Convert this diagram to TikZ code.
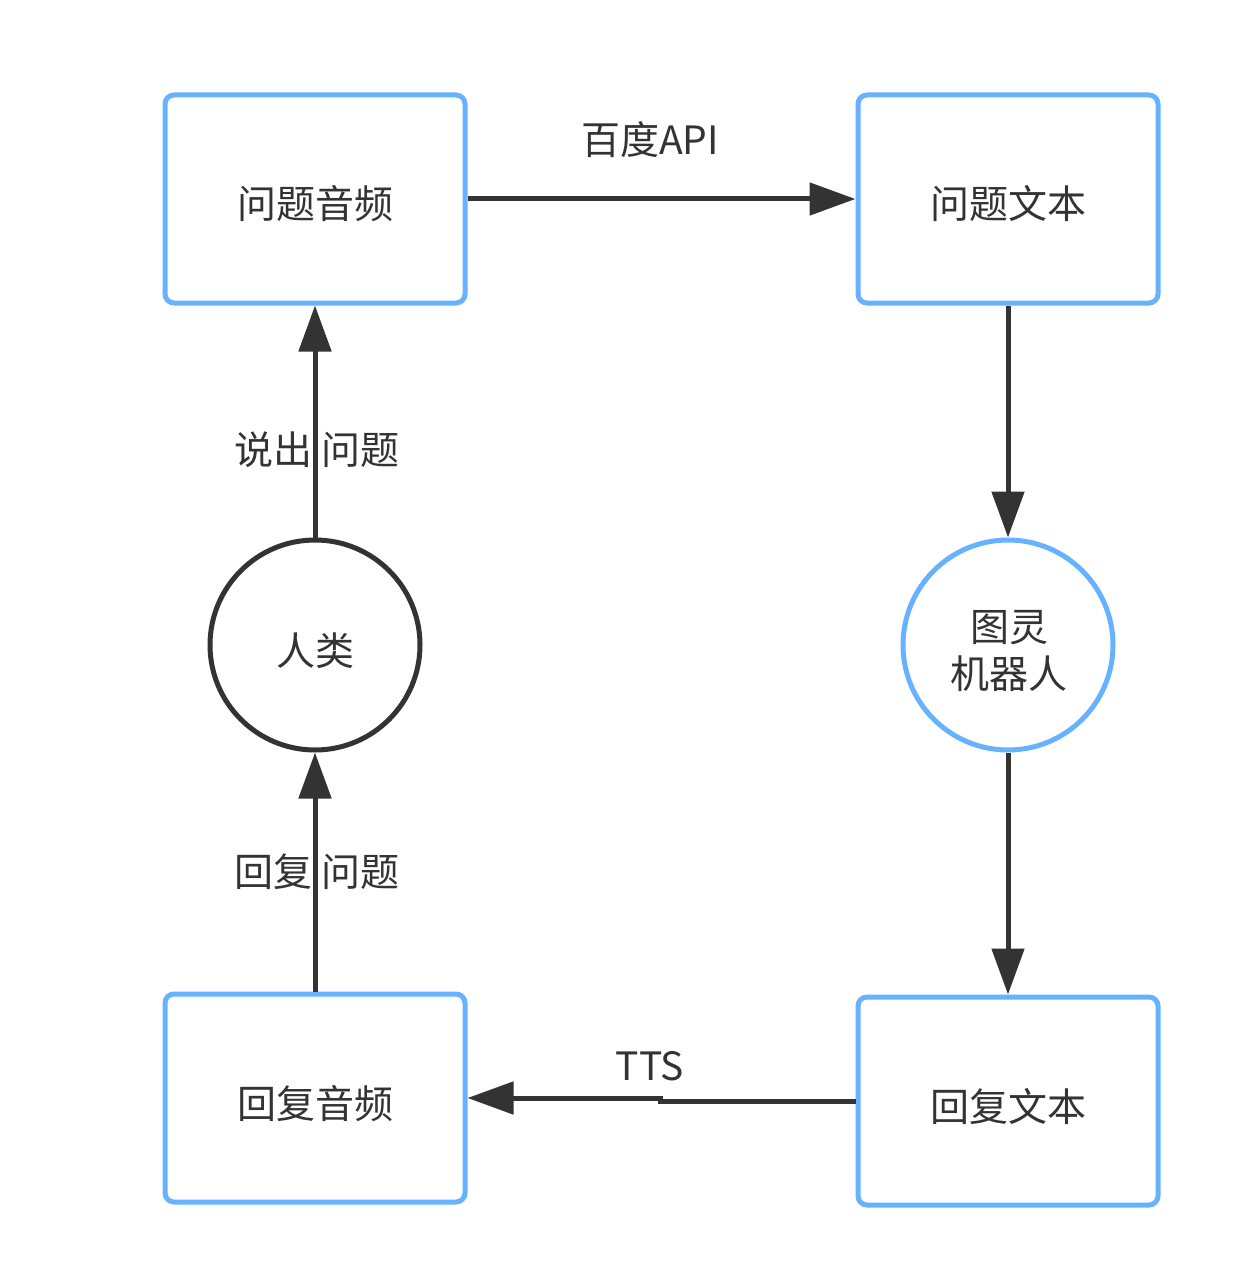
\documentclass[tikz,border=0pt]{standalone}
\usepackage{fontspec}
\setmainfont{Noto Sans CJK SC}
\usetikzlibrary{arrows.meta}
\definecolor{boxblue}{HTML}{66B2FF}
\definecolor{ink}{HTML}{333333}
\begin{document}
\begin{tikzpicture}[x=1pt,y=-1pt,
  every node/.style={text=ink,font=\fontsize{39}{47}\selectfont},
  box/.style={draw=boxblue,line width=5pt,rounded corners=9pt,minimum width=300pt,minimum height=208pt,inner sep=0pt,text height=42pt,text depth=2pt},
  bluecirc/.style={draw=boxblue,line width=5pt,circle,minimum size=210pt,inner sep=0pt},
  darkcirc/.style={draw=ink,line width=5pt,circle,minimum size=210pt,inner sep=0pt,text height=42pt,text depth=2pt},
  conn/.style={draw=ink,line width=5pt,-{Triangle[length=46pt,width=32pt]}},
  lbl/.style={inner sep=0pt}]
\useasboundingbox (0,0) rectangle (1233,1281);
\node[box] (qa) at (315,199) {问题音频};
\node[box] (qt) at (1008,199) {问题文本};
\node[box] (ra) at (315,1098) {回复音频};
\node[box] (rt) at (1008,1101) {回复文本};
\node[darkcirc] (human) at (315,645) {人类};
\node[bluecirc] (robot) at (1008,645) {};
\node[lbl,align=center] (robottxt) at (1009,651) {图灵\\机器人};
\coordinate (s1) at (660,1101);
\coordinate (s2) at (660,1098);
\draw[conn] (qa.east |- 0,199) -- (qt.west |- 0,199);
\draw[conn] (qt.south) -- (robot.north);
\draw[conn] (robot.south) -- (rt.north);
\draw[conn] (rt.west) -- (s1) -- (s2) -- (ra.east);
\draw[conn] (ra.north) -- (human.south);
\draw[conn] (human.north) -- (qa.south);
\node[lbl] (l1) at (650,140) {百度API};
\node[lbl] (l2) at (650,1066) {TTS};
\node[lbl] (l3) at (317,450) {说出 问题};
\node[lbl] (l4) at (317,872) {回复 问题};
\end{tikzpicture}
\end{document}
